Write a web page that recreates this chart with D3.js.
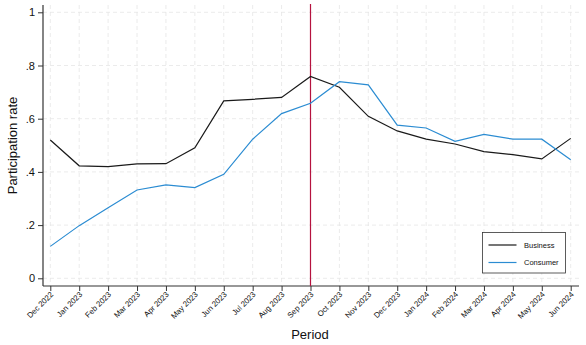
<!DOCTYPE html>
<html>
<head>
<meta charset="utf-8">
<script src="https://cdn.jsdelivr.net/npm/d3@7"></script>
<style>
  body { margin: 0; background: #fff; }
  text { font-family: "Liberation Sans", Arial, sans-serif; }
</style>
</head>
<body>
<div id="chart"></div>
<script>
var periods = ["Dec 2022","Jan 2023","Feb 2023","Mar 2023","Apr 2023","May 2023","Jun 2023","Jul 2023","Aug 2023","Sep 2023","Oct 2023","Nov 2023","Dec 2023","Jan 2024","Feb 2024","Mar 2024","Apr 2024","May 2024","Jun 2024"];
var business = [0.52,0.423,0.42,0.43,0.431,0.491,0.667,0.673,0.680,0.759,0.718,0.609,0.554,0.523,0.505,0.476,0.465,0.449,0.526];
var consumer = [0.120,0.198,0.265,0.332,0.351,0.341,0.391,0.523,0.619,0.658,0.739,0.727,0.576,0.565,0.515,0.541,0.523,0.523,0.446];
var yTicks = [0,0.2,0.4,0.6,0.8,1];
var markPeriod = "Sep 2023";
var seriesNames = ["Business","Consumer"];
var seriesColors = ["#1a1a1a","#2b8cd2"];

var width = 586, height = 345;
var margin = {top: 5, right: 7, bottom: 59, left: 43};

var svg = d3.select("#chart").append("svg")
    .attr("width", width).attr("height", height);

var x = d3.scalePoint().domain(periods).range([50.3, 570.7]);
var y = d3.scaleLinear().domain([0,1]).range([278.3, 12.3]);

var plotL = margin.left, plotR = width - margin.right, plotB = height - margin.bottom;

// grid
var grid = svg.append("g").attr("class","grid");
grid.selectAll("line.h").data(yTicks).enter().append("line")
    .attr("x1", plotL).attr("x2", plotR)
    .attr("y1", function(d){ return y(d); }).attr("y2", function(d){ return y(d); })
    .style("stroke","#e6e6e6").style("stroke-width",0.8).style("stroke-dasharray","4,3");
grid.selectAll("line.v").data(periods).enter().append("line")
    .attr("y1", margin.top).attr("y2", plotB)
    .attr("x1", function(d){ return x(d); }).attr("x2", function(d){ return x(d); })
    .style("stroke","#e6e6e6").style("stroke-width",0.8).style("stroke-dasharray","4,3");

// axes
var yAxis = svg.append("g").attr("transform","translate(" + plotL + ",0)")
    .call(d3.axisLeft(y).tickValues(yTicks).tickSize(5).tickPadding(3)
      .tickFormat(function(d){ return d === 0 ? "0" : d === 1 ? "1" : d3.format(".1f")(d).replace(/^0/, ""); }));
yAxis.select(".domain").attr("d", "M0," + margin.top + "V" + plotB).style("stroke","#333").style("stroke-width",1.2);
yAxis.selectAll(".tick line").style("stroke","#333");
yAxis.selectAll(".tick text").style("font-size","11px").style("fill","#111");

var xAxis = svg.append("g").attr("transform","translate(0," + plotB + ")")
    .call(d3.axisBottom(x).tickSize(5));
xAxis.select(".domain").attr("d", "M" + plotL + ",0H" + plotR).style("stroke","#333").style("stroke-width",1.2);
xAxis.selectAll(".tick line").style("stroke","#333");
xAxis.selectAll(".tick text")
    .style("font-size","7.8px").style("fill","#111")
    .attr("text-anchor","end")
    .attr("dy", null).attr("y", 0)
    .attr("transform","translate(3,9) rotate(-45)");

// reference line
svg.append("line")
    .attr("x1", x(markPeriod)).attr("x2", x(markPeriod))
    .attr("y1", 4).attr("y2", plotB)
    .style("stroke","#b5123f").style("stroke-width",1.2);

// series
var line = d3.line()
    .x(function(d, i){ return x(periods[i]); })
    .y(function(d){ return y(d); });

[business, consumer].forEach(function(s, i){
  svg.append("path").datum(s)
    .attr("d", line)
    .style("fill","none")
    .style("stroke", seriesColors[i])
    .style("stroke-width", 1.2);
});

// titles
svg.append("text")
    .attr("transform","translate(17," + ((margin.top + plotB)/2) + ") rotate(-90)")
    .attr("text-anchor","middle")
    .style("font-size","13px").style("fill","#111")
    .text("Participation rate");
svg.append("text")
    .attr("x", 310).attr("y", 339)
    .attr("text-anchor","middle")
    .style("font-size","13px").style("fill","#111")
    .text("Period");

// legend
var legend = svg.append("g").attr("transform","translate(482.5,232.5)");
legend.append("rect").attr("width",83).attr("height",40.5)
    .style("fill","#fff").style("stroke","#333").style("stroke-width",0.8);
seriesNames.forEach(function(n, i){
  var yy = 12.5 + i * 17.5;
  legend.append("line").attr("x1",6).attr("x2",34).attr("y1",yy).attr("y2",yy)
    .style("stroke", seriesColors[i]).style("stroke-width",1.2);
  legend.append("text").attr("x",41.5).attr("y",yy + 2.7)
    .style("font-size","7.5px").style("fill","#111").text(n);
});
</script>
</body>
</html>
